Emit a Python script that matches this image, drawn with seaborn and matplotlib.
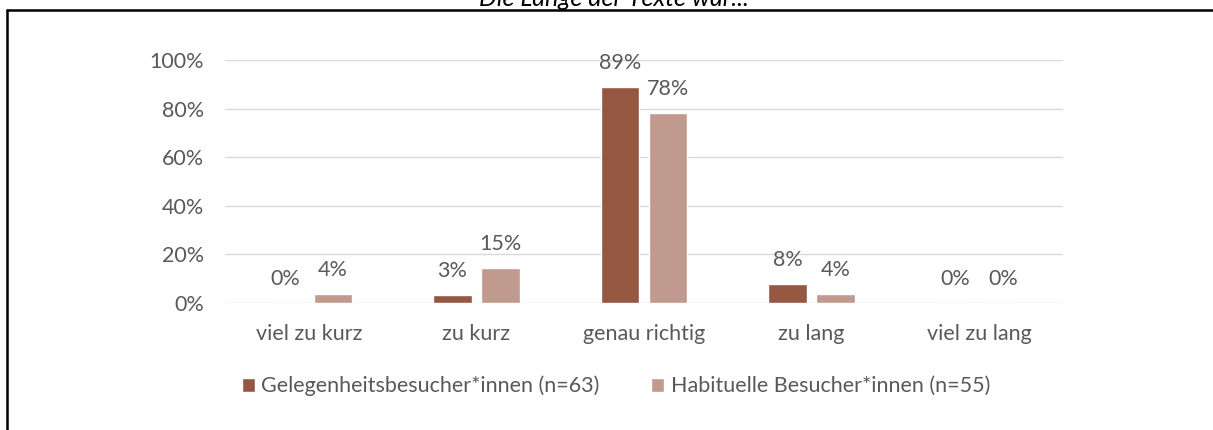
import pandas as pd
import matplotlib.pyplot as plt
import seaborn as sns
from matplotlib.lines import Line2D
from matplotlib.ticker import PercentFormatter

# Dati (valori in %)
categorie = ['viel zu kurz', 'zu kurz', 'genau richtig', 'zu lang', 'viel zu lang']
gruppi = ['Gelegenheitsbesucher*innen (n=63)', 'Habituelle Besucher*innen (n=55)']
gelegenheit = [0.0, 3.2, 88.9, 7.9, 0.0]
habituell = [3.6, 14.5, 78.2, 3.6, 0.0]
colori = ['#955642', '#C0998F']
titolo = 'Die Länge der Texte war...'

# tabella lunga per seaborn
df = pd.DataFrame({
    'Kategorie': categorie * 2,
    'Gruppe': [gruppi[0]] * len(categorie) + [gruppi[1]] * len(categorie),
    'Anteil': gelegenheit + habituell,
})

sns.set_theme(style='white')
plt.rcParams['font.family'] = ['Lato', 'DejaVu Sans']
grigio = '#595959'
dim = 15.5

fig = plt.figure(figsize=(12.13, 4.30), dpi=100)
ax = fig.add_axes([225 / 1213, 1 - 303 / 430, 838 / 1213, 243 / 430])

sns.barplot(data=df, x='Kategorie', y='Anteil', hue='Gruppe', order=categorie,
            hue_order=gruppi, palette=colori, width=0.573, gap=0.2,
            saturation=1, ax=ax, legend=True)

# etichette sopra le barre (arrotondamento per eccesso a .5)
for cont, valori in zip(ax.containers, [gelegenheit, habituell]):
    ax.bar_label(cont, labels=[f'{int(v + 0.5)}%' for v in valori], padding=10,
                 fontsize=dim, color=grigio)

ax.set_ylim(0, 100)
ax.set_xlim(-0.5, len(categorie) - 0.5)
ax.set_yticks([0, 20, 40, 60, 80, 100])
ax.yaxis.set_major_formatter(PercentFormatter(decimals=0))
ax.grid(axis='y', color='#D9D9D9', linewidth=1)
ax.set_axisbelow(True)
for s in ax.spines.values():
    s.set_visible(False)
ax.set_xlabel('')
ax.set_ylabel('')
ax.tick_params(axis='y', length=0, pad=15, labelsize=dim, labelcolor=grigio)
ax.tick_params(axis='x', length=0, pad=15, labelsize=dim, labelcolor=grigio)

# legenda sotto il grafico
handles, labels = ax.get_legend_handles_labels()
ax.legend_.remove()
fig.legend(handles, labels, loc='center', bbox_to_anchor=(616 / 1213, 1 - 386 / 430),
           ncol=2, frameon=False, fontsize=dim, labelcolor=grigio,
           handlelength=0.6, handleheight=0.6, handletextpad=0.3, columnspacing=2.4)

# titolo tagliato in alto (come nell'originale) e cornice
fig.text(614 / 1213, 1 - 6 / 430, titolo, ha='center', va='baseline',
         fontsize=18, style='italic', color='black')
fig.add_artist(Line2D([7 / 1213, 7 / 1213], [0, 1 - 10 / 430], color='black',
                      linewidth=1.8, transform=fig.transFigure))
fig.add_artist(Line2D([7 / 1213, 1], [1 - 10 / 430, 1 - 10 / 430], color='black',
                      linewidth=1.8, transform=fig.transFigure))

fig.savefig('out.png', dpi=100, facecolor='white')
